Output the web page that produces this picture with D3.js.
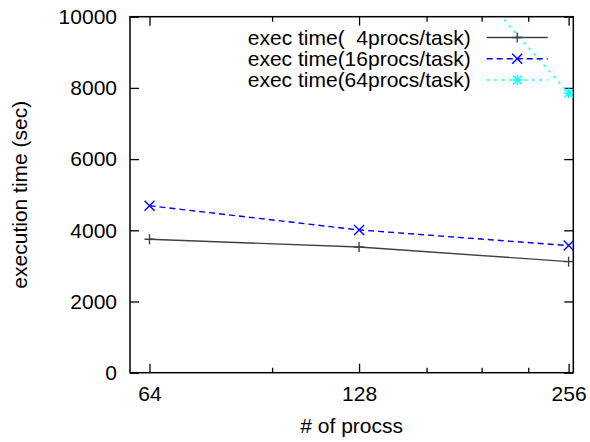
<!DOCTYPE html>
<html>
<head>
<meta charset="utf-8">
<script src="https://cdn.jsdelivr.net/npm/d3@7"></script>
<style>
  html, body { margin: 0; padding: 0; background: #fff; }
  svg { display: block; font-family: "Liberation Sans", Arial, Helvetica, sans-serif; }
  text { white-space: pre; }
</style>
</head>
<body>
<svg id="chart" width="590" height="442"></svg>
<script>
// processor counts on the x axis (log scale, base 2)
const procs = [64, 128, 256];
const majorXTicks = [64, 128, 256];
const minorXTicks = [96, 160, 192, 224];
const yTicks = [0, 2000, 4000, 6000, 8000, 10000];

// execution time (sec) for each task granularity
const exec4 = [3750, 3530, 3120];
const exec16 = [4690, 4010, 3570];
const exec64 = [20500, 14550, 7850];

const seriesNames = ["exec time(  4procs/task)", "exec time(16procs/task)", "exec time(64procs/task)"];
const seriesColors = ["#404040", "#0000ff", "#00ffff"];

(function () {
  const svg = d3.select("#chart");
  const plotLeft = 130, plotRight = 573.3, plotTop = 16.7, plotBottom = 372.7;

  const x = d3.scaleLog().base(2).domain([60, 260]).range([plotLeft, plotRight]);
  const y = d3.scaleLinear().domain([0, 10000]).range([plotBottom, plotTop]);

  const fontSize = 21;

  // clip region for the data
  svg.append("defs").append("clipPath").attr("id", "plotclip")
    .append("rect").attr("x", plotLeft).attr("y", plotTop)
    .attr("width", plotRight - plotLeft).attr("height", plotBottom - plotTop);

  function styleAxis(g) {
    g.select(".domain").remove();
    g.selectAll(".tick line").attr("stroke", "#000").attr("stroke-width", 1.3);
    g.selectAll(".tick text").attr("font-size", fontSize).attr("fill", "#000")
      .attr("font-family", "'Liberation Sans', Arial, sans-serif");
  }

  // bottom axis: major and minor ticks pointing inward
  svg.append("g").attr("transform", `translate(0,${plotBottom})`)
    .call(d3.axisBottom(x).tickValues(majorXTicks).tickFormat(d3.format("d")).tickSize(-9).tickPadding(13))
    .call(styleAxis);
  svg.append("g").attr("transform", `translate(0,${plotBottom})`)
    .call(d3.axisBottom(x).tickValues(minorXTicks).tickFormat("").tickSize(-5))
    .call(styleAxis);
  // mirrored top ticks
  svg.append("g").attr("transform", `translate(0,${plotTop})`)
    .call(d3.axisTop(x).tickValues(majorXTicks).tickFormat("").tickSize(-9))
    .call(styleAxis);
  svg.append("g").attr("transform", `translate(0,${plotTop})`)
    .call(d3.axisTop(x).tickValues(minorXTicks).tickFormat("").tickSize(-5))
    .call(styleAxis);

  // left axis and mirrored right ticks
  svg.append("g").attr("transform", `translate(${plotLeft},0)`)
    .call(d3.axisLeft(y).tickValues(yTicks).tickFormat(d3.format("d")).tickSize(-9).tickPadding(13))
    .call(styleAxis);
  svg.append("g").attr("transform", `translate(${plotRight},0)`)
    .call(d3.axisRight(y).tickValues(yTicks).tickFormat("").tickSize(-9))
    .call(styleAxis);

  // plot frame
  svg.append("rect").attr("x", plotLeft).attr("y", plotTop)
    .attr("width", plotRight - plotLeft).attr("height", plotBottom - plotTop)
    .attr("fill", "none").attr("stroke", "#000").attr("stroke-width", 1.5);

  // axis titles
  svg.append("text").attr("x", (plotLeft + plotRight) / 2).attr("y", 432.5)
    .attr("text-anchor", "middle").attr("font-size", fontSize).text("# of procss");
  svg.append("text")
    .attr("transform", `translate(27,${(plotTop + plotBottom) / 2}) rotate(-90)`)
    .attr("text-anchor", "middle").attr("font-size", fontSize).text("execution time (sec)");

  // marker drawing helpers
  function markPlus(g, cx, cy, r, color) {
    g.append("path").attr("d", `M${cx - r},${cy}H${cx + r}M${cx},${cy - r}V${cy + r}`)
      .attr("stroke", color).attr("stroke-width", 1.4).attr("fill", "none");
  }
  function markCross(g, cx, cy, r, color) {
    g.append("path").attr("d", `M${cx - r},${cy - r}L${cx + r},${cy + r}M${cx - r},${cy + r}L${cx + r},${cy - r}`)
      .attr("stroke", color).attr("stroke-width", 1.4).attr("fill", "none");
  }
  function markStar(g, cx, cy, r, color) {
    markPlus(g, cx, cy, r, color);
    markCross(g, cx, cy, r * 0.85, color);
  }

  const series = [
    { values: exec4, color: seriesColors[0], dash: null, width: 1.4, mark: markPlus },
    { values: exec16, color: seriesColors[1], dash: "6,4", width: 1.4, mark: markCross },
    { values: exec64, color: seriesColors[2], dash: "2.5,5", width: 1.4, mark: markStar }
  ];

  const line = d3.line().x((d, i) => x(procs[i])).y(d => y(d));
  const plot = svg.append("g").attr("clip-path", "url(#plotclip)");

  series.forEach(s => {
    plot.append("path").datum(s.values).attr("d", line)
      .attr("fill", "none").attr("stroke", s.color).attr("stroke-width", s.width)
      .attr("stroke-dasharray", s.dash);
    s.values.forEach((v, i) => s.mark(plot, x(procs[i]), y(v), 5, s.color));
  });

  // legend
  const legendTextX = 470.7;
  const legendLineX0 = 486.7, legendLineX1 = 547.7;
  const legendRows = [37.5, 58.7, 80];
  const legend = svg.append("g");
  series.forEach((s, i) => {
    const ly = legendRows[i];
    legend.append("text").attr("x", legendTextX).attr("y", ly).attr("dy", "0.35em")
      .attr("text-anchor", "end").attr("font-size", fontSize).text(seriesNames[i]);
    legend.append("line").attr("x1", legendLineX0).attr("x2", legendLineX1)
      .attr("y1", ly).attr("y2", ly)
      .attr("stroke", s.color).attr("stroke-width", s.width).attr("stroke-dasharray", s.dash);
    s.mark(legend, (legendLineX0 + legendLineX1) / 2, ly, 5, s.color);
  });
})();
</script>
</body>
</html>
